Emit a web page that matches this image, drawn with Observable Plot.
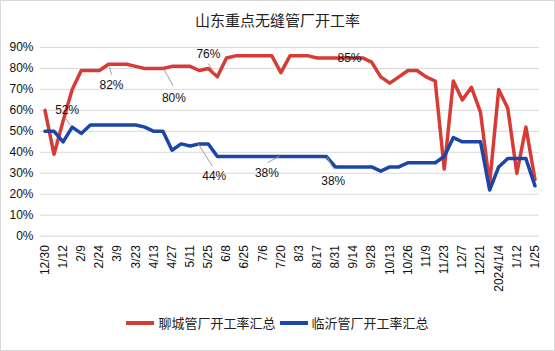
<!DOCTYPE html>
<html><head><meta charset="utf-8">
<script src="https://cdn.jsdelivr.net/npm/d3@7"></script>
<script src="https://cdn.jsdelivr.net/npm/@observablehq/plot@0.6"></script>
<style>
html,body{margin:0;padding:0;background:#fff;}
#wrap{box-sizing:border-box;width:555px;height:351px;border:1px solid #d9d9d9;font-family:"Liberation Sans",Arial,"Noto Sans CJK SC",sans-serif;position:relative;overflow:hidden;background:#fff;}
#title{position:absolute;left:0;right:0;top:9px;text-align:center;font-size:15px;font-family:"Noto Sans CJK SC",sans-serif;color:#222;line-height:20px;}
#chart{position:absolute;left:-1px;top:35px;}
#legend{position:absolute;left:0;right:0;top:312px;display:flex;justify-content:center;align-items:center;font-size:13px;font-family:"Noto Sans CJK SC",sans-serif;color:#222;line-height:20px;}
.sw{display:inline-block;width:28px;height:4px;margin-right:4px;}
.item{display:flex;align-items:center;margin:0 2px;}
</style></head>
<body>
<div id="wrap">
  <div id="title"></div>
  <div id="chart"></div>
  <div id="legend"></div>
</div>
<script>
const title = "山东重点无缝管厂开工率";
const seriesNames = ["聊城管厂开工率汇总", "临沂管厂开工率汇总"];
const colors = ["#d63b35", "#1b46a6"];
// tick labels (every other week)
const tickLabels = ["12/30","1/12","2/9","2/24","3/9","3/23","4/13","4/27","5/11","5/25","6/8","6/25","7/6","7/20","8/3","8/17","8/31","9/14","9/28","10/13","10/26","11/9","11/23","12/7","12/21","2024/1/4","1/12","1/25"];
// weekly values (%)
const liaocheng = [60,39,55,70,79,79,79,82,82,82,81,80,80,80,81,81,81,79,80,76,85,86,86,86,86,86,78,86,86,86,85,85,85,85,85,85,83,76,73,76,79,79,76,74,32,74,65,71,59,25,70,61,30,52,27];
const linyi = [50,50,45,52,49,53,53,53,53,53,53,52,50,50,41,44,43,44,44,38,38,38,38,38,38,38,38,38,38,38,38,38,33,33,33,33,33,31,33,33,35,35,35,35,38,47,45,45,45,22,33,37,37,37,24];
const yTicks = [0,10,20,30,40,50,60,70,80,90];
// data labels: series index, point index
const labelSeries = [1,0,0,0,0,1,1,1];
const labelIndex  = [3,7,13,19,34,17,26,31];
// label offsets and leader segments (pixels) — styling
const labelStyle = [
  {dx:-5, dy:-17, lead:[[-6,-8],[-2,-2]]},
  {dx:3, dy:21, lead:[[1,3],[3,10]]},
  {dx:11, dy:30, lead:[[1,1],[10,17]]},
  {dx:-9, dy:-23, lead:[[-9,-13],[-3,-4]]},
  {dx:-4, dy:0, lead:null},
  {dx:15, dy:32, lead:[[-1,0],[13,22]]},
  {dx:-14, dy:17, lead:[[-13,6],[-2,0]]},
  {dx:7, dy:25, lead:[[1,1],[7,12]]}
];

document.getElementById("title").textContent = title;
const legend = document.getElementById("legend");
seriesNames.forEach((n, k) => {
  const it = document.createElement("span"); it.className = "item";
  const sw = document.createElement("span"); sw.className = "sw"; sw.style.background = colors[k];
  const tx = document.createElement("span"); tx.textContent = n;
  it.appendChild(sw); it.appendChild(tx); legend.appendChild(it);
});

const series = [liaocheng, linyi];
const marks = [
  Plot.ruleY(yTicks, {stroke: "#d9d9d9", strokeWidth: 1}),
  Plot.line(liaocheng, {x: (d, i) => i, y: d => d, stroke: colors[0], strokeWidth: 3.5}),
  Plot.line(linyi, {x: (d, i) => i, y: d => d, stroke: colors[1], strokeWidth: 3.5})
];
labelIndex.forEach((idx, k) => {
  const s = series[labelSeries[k]];
  const st = labelStyle[k];
  const datum = [{x: idx, y: s[idx]}];
  if (st.lead) {
    const [[x0,y0],[x1,y1]] = st.lead;
    marks.push(Plot.vector(datum, {
      x: "x", y: "y", length: 1, rotate: 0, anchor: "start",
      stroke: "#a0a0a0", strokeWidth: 1,
      shape: {draw(ctx) { ctx.moveTo(x0, y0); ctx.lineTo(x1, y1); }}
    }));
  }
  marks.push(Plot.text(datum, {
    x: "x", y: "y", text: d => d.y + "%", dx: st.dx, dy: st.dy,
    fontSize: 12, fill: "#111", fontFamily: "Liberation Sans, Arial, sans-serif"
  }));
});

const chart = Plot.plot({
  width: 555,
  height: 265,
  marginTop: 11,
  marginBottom: 65,
  marginLeft: 40,
  marginRight: 15,
  style: {fontSize: "12px", fontFamily: "Liberation Sans, Arial, sans-serif", color: "#111", background: "transparent"},
  x: {domain: [-0.5, 54.5], ticks: d3.range(0, 55, 2), tickFormat: i => tickLabels[i / 2], tickRotate: -90, tickSize: 0, tickPadding: 9, label: null},
  y: {domain: [0, 90], ticks: yTicks, tickFormat: d => d + "%", tickSize: 0, tickPadding: 7, label: null},
  marks
});
document.getElementById("chart").appendChild(chart);
</script>
</body></html>
